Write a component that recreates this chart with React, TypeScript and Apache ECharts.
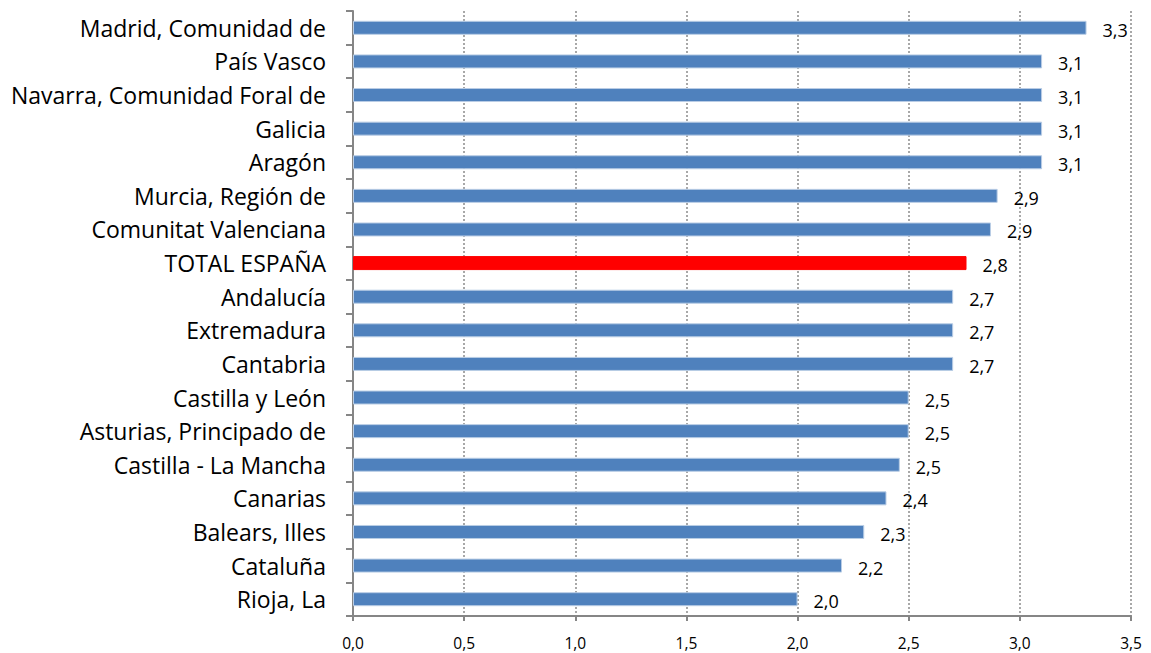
import React, { useEffect, useRef } from "react";
import * as echarts from "echarts";

const categories = [
  "Madrid, Comunidad de",
  "País Vasco",
  "Navarra, Comunidad Foral de",
  "Galicia",
  "Aragón",
  "Murcia, Región de",
  "Comunitat Valenciana",
  "TOTAL ESPAÑA",
  "Andalucía",
  "Extremadura",
  "Cantabria",
  "Castilla y León",
  "Asturias, Principado de",
  "Castilla - La Mancha",
  "Canarias",
  "Balears, Illes",
  "Cataluña",
  "Rioja, La",
];

const values = [3.3, 3.1, 3.1, 3.1, 3.1, 2.9, 2.87, 2.76, 2.7, 2.7, 2.7, 2.5, 2.5, 2.46, 2.4, 2.3, 2.2, 2.0];

const highlight = "TOTAL ESPAÑA";
const xTicks = { min: 0, max: 3.5, interval: 0.5 };

export default function App() {
  const ref = useRef<HTMLDivElement>(null);
  useEffect(() => {
    if (!ref.current) return;
    const chart = echarts.init(ref.current, undefined, { renderer: "svg" });
    const fontFamily = "'Open Sans', sans-serif";
    chart.setOption({
      animation: false,
      grid: { left: 353, right: 20, top: 11, bottom: 37, containLabel: false },
      xAxis: {
        type: "value",
        min: xTicks.min,
        max: xTicks.max,
        interval: xTicks.interval,
        axisLine: { show: true, lineStyle: { color: "#868686", width: 2 } },
        axisTick: { show: true, length: 5, lineStyle: { color: "#868686", width: 2 } },
        axisLabel: {
          color: "#000",
          fontSize: 15.5,
          fontFamily,
          margin: 19,
          formatter: (v: number) => v.toFixed(1).replace(".", ","),
        },
        splitLine: { show: true, lineStyle: { color: "#8c8c8c", type: [2, 2], width: 1.5 } },
      },
      yAxis: {
        type: "category",
        data: categories,
        inverse: true,
        axisLine: { show: true, lineStyle: { color: "#868686", width: 2 } },
        axisTick: { show: true, length: 7, lineStyle: { color: "#868686", width: 2 } },
        axisLabel: { color: "#000", fontSize: 23, fontFamily, margin: 27 },
        splitLine: { show: false },
      },
      series: [
        {
          type: "bar",
          barWidth: 14,
          data: values.map((v, i) => ({
            value: v,
            itemStyle: {
              color: categories[i] === highlight ? "#FF0000" : "#4F81BD",
              borderColor: categories[i] === highlight ? "#FF0000" : "#B9CDE5",
              borderWidth: 1,
            },
          })),
          label: {
            show: true,
            position: "right",
            distance: 16,
            offset: [0, 2],
            color: "#000",
            fontSize: 18,
            fontFamily,
            formatter: (p: any) => Number(p.value).toFixed(1).replace(".", ","),
          },
        },
      ],
    });
    return () => chart.dispose();
  }, []);
  return <div ref={ref} style={{ width: 1151, height: 653, position: "absolute", left: 0, top: 0, background: "#fff" }} />;
}
